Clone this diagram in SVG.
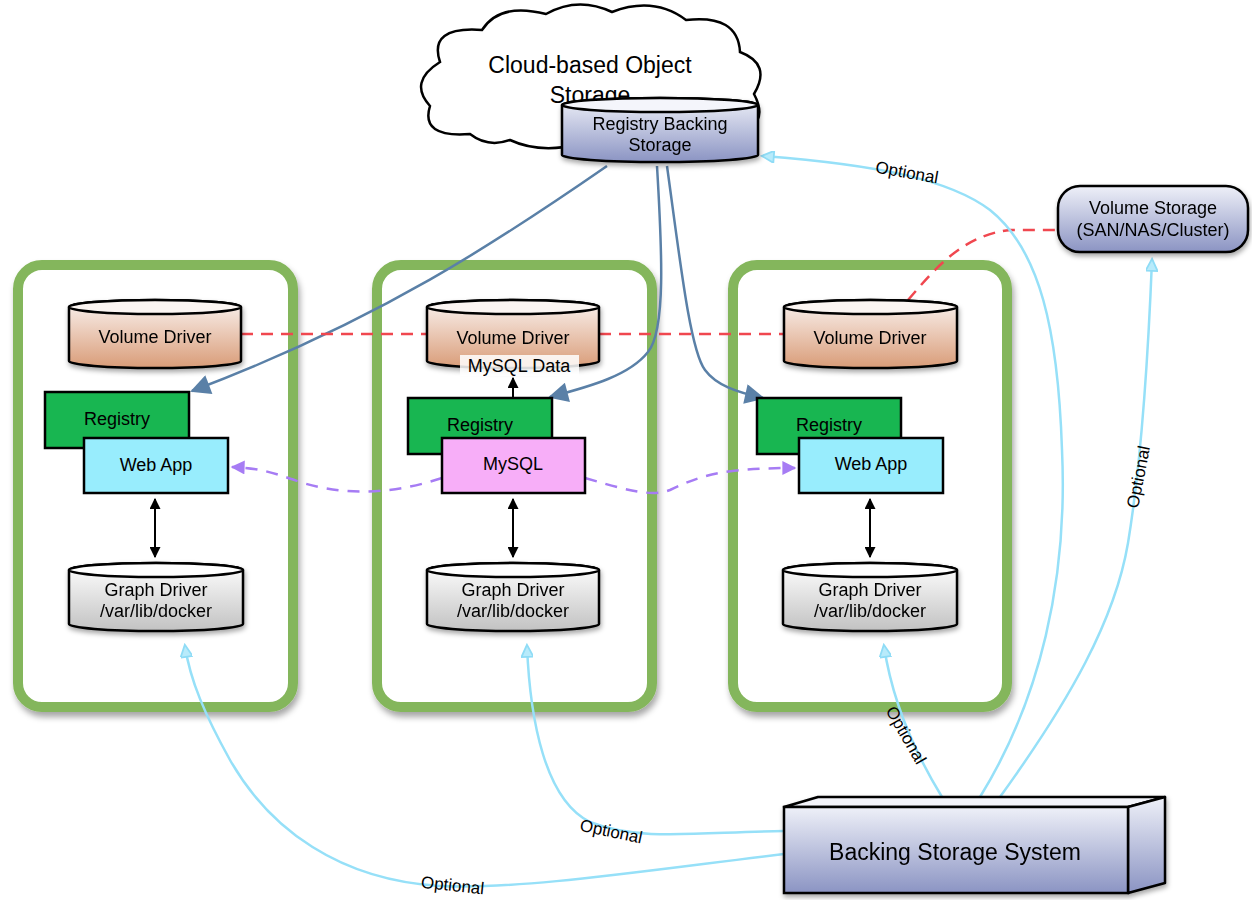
<svg xmlns="http://www.w3.org/2000/svg" width="1252" height="900" viewBox="0 0 1252 900">
  <defs>
    <linearGradient id="gVol" x1="0" y1="0" x2="0" y2="1">
      <stop offset="0" stop-color="#faf3f0"/>
      <stop offset="1" stop-color="#d99c78"/>
    </linearGradient>
    <linearGradient id="gGraph" x1="0" y1="0" x2="0" y2="1">
      <stop offset="0" stop-color="#ffffff"/>
      <stop offset="1" stop-color="#c2c2c2"/>
    </linearGradient>
    <linearGradient id="gBlue" x1="0" y1="0" x2="0" y2="1">
      <stop offset="0" stop-color="#eef0f8"/>
      <stop offset="1" stop-color="#8b94c3"/>
    </linearGradient>
    <filter id="shadow" x="-10%" y="-10%" width="130%" height="130%">
      <feDropShadow dx="1" dy="3" stdDeviation="2.5" flood-color="#000" flood-opacity="0.35"/>
    </filter>
    <filter id="hostShadow" x="-10%" y="-10%" width="130%" height="130%">
      <feDropShadow dx="2" dy="5" stdDeviation="3" flood-color="#000" flood-opacity="0.35"/>
    </filter>
    <marker id="mBlue" viewBox="0 0 10 10" refX="9" refY="5" markerWidth="26" markerHeight="20" markerUnits="userSpaceOnUse" orient="auto">
      <path d="M0,0 L10,5 L0,10 Z" fill="#5a80a7"/>
    </marker>
    <marker id="mBlack" viewBox="0 0 10 10" refX="9" refY="5" markerWidth="11" markerHeight="11" markerUnits="userSpaceOnUse" orient="auto-start-reverse">
      <path d="M0,0 L10,5 L0,10 Z" fill="#000"/>
    </marker>
    <marker id="mPurple" viewBox="0 0 10 10" refX="9" refY="5" markerWidth="16" markerHeight="14" markerUnits="userSpaceOnUse" orient="auto">
      <path d="M0,0 L10,5 L0,10 Z" fill="#a67cf4"/>
    </marker>
    <marker id="mLight" viewBox="0 0 10 10" refX="9" refY="5" markerWidth="15" markerHeight="12" markerUnits="userSpaceOnUse" orient="auto">
      <path d="M0,0 L10,5 L0,10 Z" fill="#b8ebfb" stroke="#8fdcf6" stroke-width="1.5"/>
    </marker>
    <style>
      .host { fill: #ffffff; stroke: #84b65b; stroke-width: 10; }
      .edge { stroke: #000; stroke-width: 2.5; }
      .t { font-family: "Liberation Sans", Arial, sans-serif; font-size: 18px; fill: #000; text-anchor: middle; }
      .big { font-size: 23px; }
      .opt { font-family: "Liberation Sans", Arial, sans-serif; font-size: 17px; fill: #000; text-anchor: middle; }
      .blue { fill: none; stroke: #5a80a7; stroke-width: 2.5; marker-end: url(#mBlue); }
      .black { fill: none; stroke: #000; stroke-width: 2; marker-start: url(#mBlack); marker-end: url(#mBlack); }
      .red { fill: none; stroke: #f0474f; stroke-width: 2.5; stroke-dasharray: 12 8; }
      .purple { fill: none; stroke: #a67cf4; stroke-width: 2.5; stroke-dasharray: 12 9; marker-end: url(#mPurple); }
      .light { fill: none; stroke: #96e0f8; stroke-width: 2.5; marker-end: url(#mLight); }
    </style>
  </defs>

  <rect width="1252" height="900" fill="#ffffff"/>

  <!-- host frames -->
  <g id="host-1"><rect class="host" x="18" y="265" width="275" height="442" rx="24" filter="url(#hostShadow)"/></g>
  <g id="host-2"><rect class="host" x="377" y="265" width="275" height="442" rx="24" filter="url(#hostShadow)"/></g>
  <g id="host-3"><rect class="host" x="733" y="265" width="274" height="442" rx="24" filter="url(#hostShadow)"/></g>

  <!-- cloud with registry backing storage -->
  <g id="cloud-storage">
    <path class="edge" fill="#ffffff" d="M470,134 Q420,138 430,106 Q408,82 440,62 Q428,26 482,30 Q500,2 546,14 Q578,-4 612,12 Q654,-4 686,20 Q738,14 740,52 Q772,64 754,94 Q772,128 730,136 Q700,154 660,144 Q620,158 580,144 Q540,154 510,140 Q488,148 470,134 Z"/>
    <text class="t" x="590" y="73" style="font-size:23px">Cloud-based Object</text>
    <text class="t" x="590" y="103" style="font-size:23px">Storage</text>
  </g>

  <!-- connectors -->
  <g id="connectors">
    <!-- registry backing storage to registries -->
    <path class="blue" d="M607,166 C500,240 380,320 192,391"/>
    <path class="blue" d="M657,166 C662,250 666,330 648,352 C630,375 592,386 550,397"/>
    <path class="blue" d="M667,166 C680,260 690,350 705,370 C716,385 736,392 763,398"/>

    <!-- volume driver links -->
    <path class="red" d="M241,334 H427"/>
    <path class="red" d="M599,334 H783"/>
    <path class="red" d="M908,300 C930,275 960,235 1010,230 L1058,230"/>

    <!-- mysql to web apps -->
    <path class="purple" d="M442,478 C400,492 350,498 300,482 C280,475 262,468 232,467"/>
    <path class="purple" d="M585,478 C620,488 650,498 670,490 C700,476 720,468 795,468"/>

    <!-- container to graph driver -->
    <path class="black" d="M155,499 V557"/>
    <path class="black" d="M513,499 V557"/>
    <path class="black" d="M870,499 V557"/>
    <path fill="none" stroke="#000" stroke-width="2" marker-end="url(#mBlack)" d="M513,398 V378"/>

    <!-- optional backing storage links -->
    <path class="light" d="M980,797 C1040,700 1068,580 1062,450 C1058,330 1040,250 990,210 C950,180 880,165 763,156"/>
    <path class="light" d="M1000,797 C1070,700 1115,620 1128,543 C1140,470 1148,360 1152,260"/>
    <path class="light" d="M942,797 Q895,720 884,646"/>
    <path class="light" d="M784,831 C700,832 640,842 590,822 C545,800 530,720 527,646"/>
    <path class="light" d="M784,854 C650,870 520,890 440,886 C340,880 270,830 230,760 C205,715 190,680 185,646"/>

    <text class="opt" transform="translate(906,178) rotate(10)">Optional</text>
    <text class="opt" transform="translate(1144,478) rotate(-79)">Optional</text>
    <text class="opt" transform="translate(901,738) rotate(60)">Optional</text>
    <text class="opt" transform="translate(610,837) rotate(12)">Optional</text>
    <text class="opt" transform="translate(452,891) rotate(6)">Optional</text>
  </g>

  <!-- registry backing storage -->
  <g id="registry-backing" filter="url(#shadow)">
    <path class="edge" fill="url(#gBlue)" d="M562,105 V155 A98,7 0 0 0 758,155 V105 A98,7 0 0 0 562,105 Z"/>
    <ellipse class="edge" cx="660" cy="105" rx="98" ry="7" fill="#f4f5fb"/>
    <text class="t" x="660" y="130">Registry Backing</text>
    <text class="t" x="660" y="151">Storage</text>
  </g>

  <!-- volume storage -->
  <g id="volume-storage" filter="url(#shadow)">
    <rect class="edge" x="1058" y="186" width="190" height="66" rx="22" fill="url(#gBlue)"/>
    <text class="t" x="1153" y="214">Volume Storage</text>
    <text class="t" x="1153" y="236">(SAN/NAS/Cluster)</text>
  </g>

  <!-- host 1 contents -->
  <g id="volume-driver-1" filter="url(#shadow)">
    <path class="edge" fill="url(#gVol)" d="M69,307 V361 A86,7 0 0 0 241,361 V307 A86,7 0 0 0 69,307 Z"/>
    <ellipse class="edge" cx="155" cy="307" rx="86" ry="7" fill="#fbf5f2"/>
    <text class="t" x="155" y="343">Volume Driver</text>
  </g>
  <g id="registry-1">
    <rect class="edge" x="45" y="392" width="144" height="56" fill="#18b651"/>
    <text class="t" x="117" y="425">Registry</text>
  </g>
  <g id="webapp-1">
    <rect class="edge" x="84" y="438" width="144" height="55" fill="#98edfd"/>
    <text class="t" x="156" y="471">Web App</text>
  </g>
  <g id="graph-driver-1" filter="url(#shadow)">
    <path class="edge" fill="url(#gGraph)" d="M69,570 V624 A87,7 0 0 0 243,624 V570 A87,7 0 0 0 69,570 Z"/>
    <ellipse class="edge" cx="156" cy="570" rx="87" ry="7" fill="#ffffff"/>
    <text class="t" x="156" y="596">Graph Driver</text>
    <text class="t" x="156" y="617">/var/lib/docker</text>
  </g>

  <!-- host 2 contents -->
  <g id="volume-driver-2" filter="url(#shadow)">
    <path class="edge" fill="url(#gVol)" d="M427,307 V361 A86,7 0 0 0 599,361 V307 A86,7 0 0 0 427,307 Z"/>
    <ellipse class="edge" cx="513" cy="307" rx="86" ry="7" fill="#fbf5f2"/>
    <text class="t" x="513" y="344">Volume Driver</text>
  </g>
  <g id="mysql-data">
    <rect x="460" y="355" width="119" height="21" fill="#ffffff" fill-opacity="0.85"/>
    <text class="t" x="519" y="372">MySQL Data</text>
  </g>
  <g id="registry-2">
    <rect class="edge" x="408" y="398" width="144" height="56" fill="#18b651"/>
    <text class="t" x="480" y="431">Registry</text>
  </g>
  <g id="mysql">
    <rect class="edge" x="442" y="438" width="143" height="55" fill="#f7aef8"/>
    <text class="t" x="513" y="470">MySQL</text>
  </g>
  <g id="graph-driver-2" filter="url(#shadow)">
    <path class="edge" fill="url(#gGraph)" d="M427,570 V624 A86,7 0 0 0 599,624 V570 A86,7 0 0 0 427,570 Z"/>
    <ellipse class="edge" cx="513" cy="570" rx="86" ry="7" fill="#ffffff"/>
    <text class="t" x="513" y="596">Graph Driver</text>
    <text class="t" x="513" y="617">/var/lib/docker</text>
  </g>

  <!-- host 3 contents -->
  <g id="volume-driver-3" filter="url(#shadow)">
    <path class="edge" fill="url(#gVol)" d="M784,307 V361 A86.5,7 0 0 0 957,361 V307 A86.5,7 0 0 0 784,307 Z"/>
    <ellipse class="edge" cx="870.5" cy="307" rx="86.5" ry="7" fill="#fbf5f2"/>
    <text class="t" x="870" y="344">Volume Driver</text>
  </g>
  <g id="registry-3">
    <rect class="edge" x="757" y="398" width="144" height="56" fill="#18b651"/>
    <text class="t" x="829" y="431">Registry</text>
  </g>
  <g id="webapp-3">
    <rect class="edge" x="799" y="438" width="144" height="55" fill="#98edfd"/>
    <text class="t" x="871" y="470">Web App</text>
  </g>
  <g id="graph-driver-3" filter="url(#shadow)">
    <path class="edge" fill="url(#gGraph)" d="M783,570 V624 A87,7 0 0 0 957,624 V570 A87,7 0 0 0 783,570 Z"/>
    <ellipse class="edge" cx="870" cy="570" rx="87" ry="7" fill="#ffffff"/>
    <text class="t" x="870" y="596">Graph Driver</text>
    <text class="t" x="870" y="617">/var/lib/docker</text>
  </g>

  <!-- backing storage system -->
  <g id="backing-storage" filter="url(#shadow)">
    <polygon class="edge" points="784,807 818,797 1165,797 1128,807" fill="#f3f4fa" stroke-linejoin="round"/>
    <polygon class="edge" points="1128,807 1165,797 1165,883 1128,893" fill="url(#gBlue)" stroke-linejoin="round"/>
    <rect class="edge" x="784" y="807" width="344" height="86" fill="url(#gBlue)"/>
    <text class="t big" x="955" y="860">Backing Storage System</text>
  </g>
</svg>
